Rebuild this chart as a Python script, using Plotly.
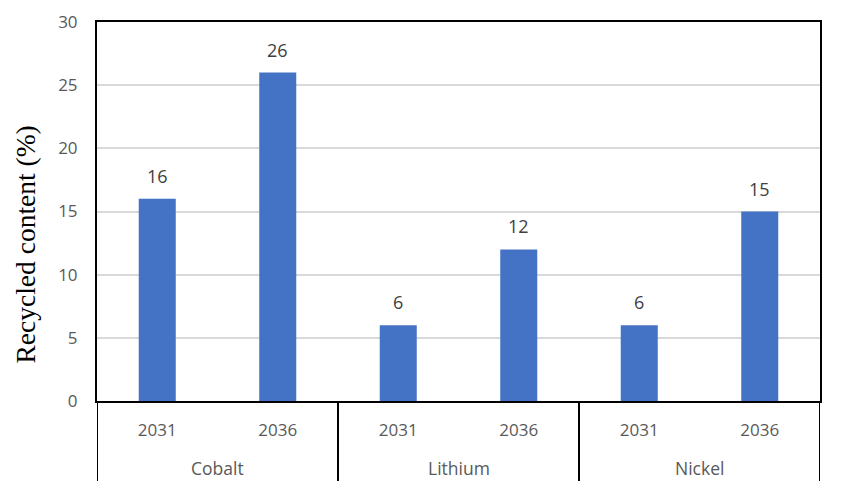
import plotly.graph_objects as go

metals = ["Cobalt", "Cobalt", "Lithium", "Lithium", "Nickel", "Nickel"]
years = ["2031", "2036", "2031", "2036", "2031", "2036"]
values = [16, 26, 6, 12, 6, 15]
y_ticks = [0, 5, 10, 15, 20, 25, 30]

cats = [f"{m} {y}" for m, y in zip(metals, years)]

fig = go.Figure()
fig.add_trace(go.Bar(
    x=cats,
    y=values,
    marker=dict(color="#4472C4", line=dict(width=0)),
    hoverinfo="x+y",
))

# data labels above bars
for c, v in zip(cats, values):
    fig.add_annotation(
        x=c, y=v, xref="x", yref="y", text=str(v), showarrow=False,
        yanchor="bottom", yshift=9,
        font=dict(family="Open Sans", size=18, color="#404040"),
    )

# group labels and dividers
groups = []
for i, m in enumerate(metals):
    if not groups or groups[-1][0] != m:
        groups.append([m, i, i])
    else:
        groups[-1][2] = i
plot_h = 500 - 14 - 107
for m, i0, i1 in groups:
    fig.add_annotation(
        x=(i0 + i1) / 2, y=0, xref="x", yref="paper", text=m, showarrow=False,
        yanchor="middle", yshift=-67,
        font=dict(family="Open Sans", size=17.5, color="#595959"),
    )
bounds = [g[1] - 0.5 for g in groups] + [groups[-1][2] + 0.5]
for b in bounds:
    fig.add_shape(
        type="line", xref="x", yref="paper", x0=b, x1=b, y0=0, y1=-80 / plot_h,
        line=dict(color="black", width=2),
    )

fig.add_annotation(
    x=0, y=0.5, xref="paper", yref="paper", text="Recycled content (%)",
    showarrow=False, textangle=-90, xanchor="center", yanchor="middle",
    xshift=-72, yshift=-33,
    font=dict(family="Liberation Serif", size=27.5, color="black"),
)

fig.update_layout(
    width=841, height=500,
    margin=dict(l=89, r=29, t=14, b=107, autoexpand=False),
    plot_bgcolor="white", paper_bgcolor="white",
    bargap=0.693,
    showlegend=False,
    font=dict(family="Open Sans", size=17, color="#595959"),
)
fig.update_xaxes(
    type="category", range=[-0.5, 5.5], automargin=False,
    tickvals=cats, ticktext=years,
    showline=True, linecolor="black", linewidth=2, mirror=True,
    tickfont=dict(family="Open Sans", size=17, color="#595959"),
    showgrid=False, ticks="", ticklabelstandoff=13,
)
fig.update_yaxes(
    range=[0, 30], tickvals=y_ticks, automargin=False,
    showline=True, linecolor="black", linewidth=2, mirror=True,
    showgrid=True, gridcolor="#D9D9D9", gridwidth=1.5,
    zeroline=False,
    tickfont=dict(family="Open Sans", size=17, color="#595959"),
    ticks="", ticklabelstandoff=14,
)

fig.write_html("out.html")
